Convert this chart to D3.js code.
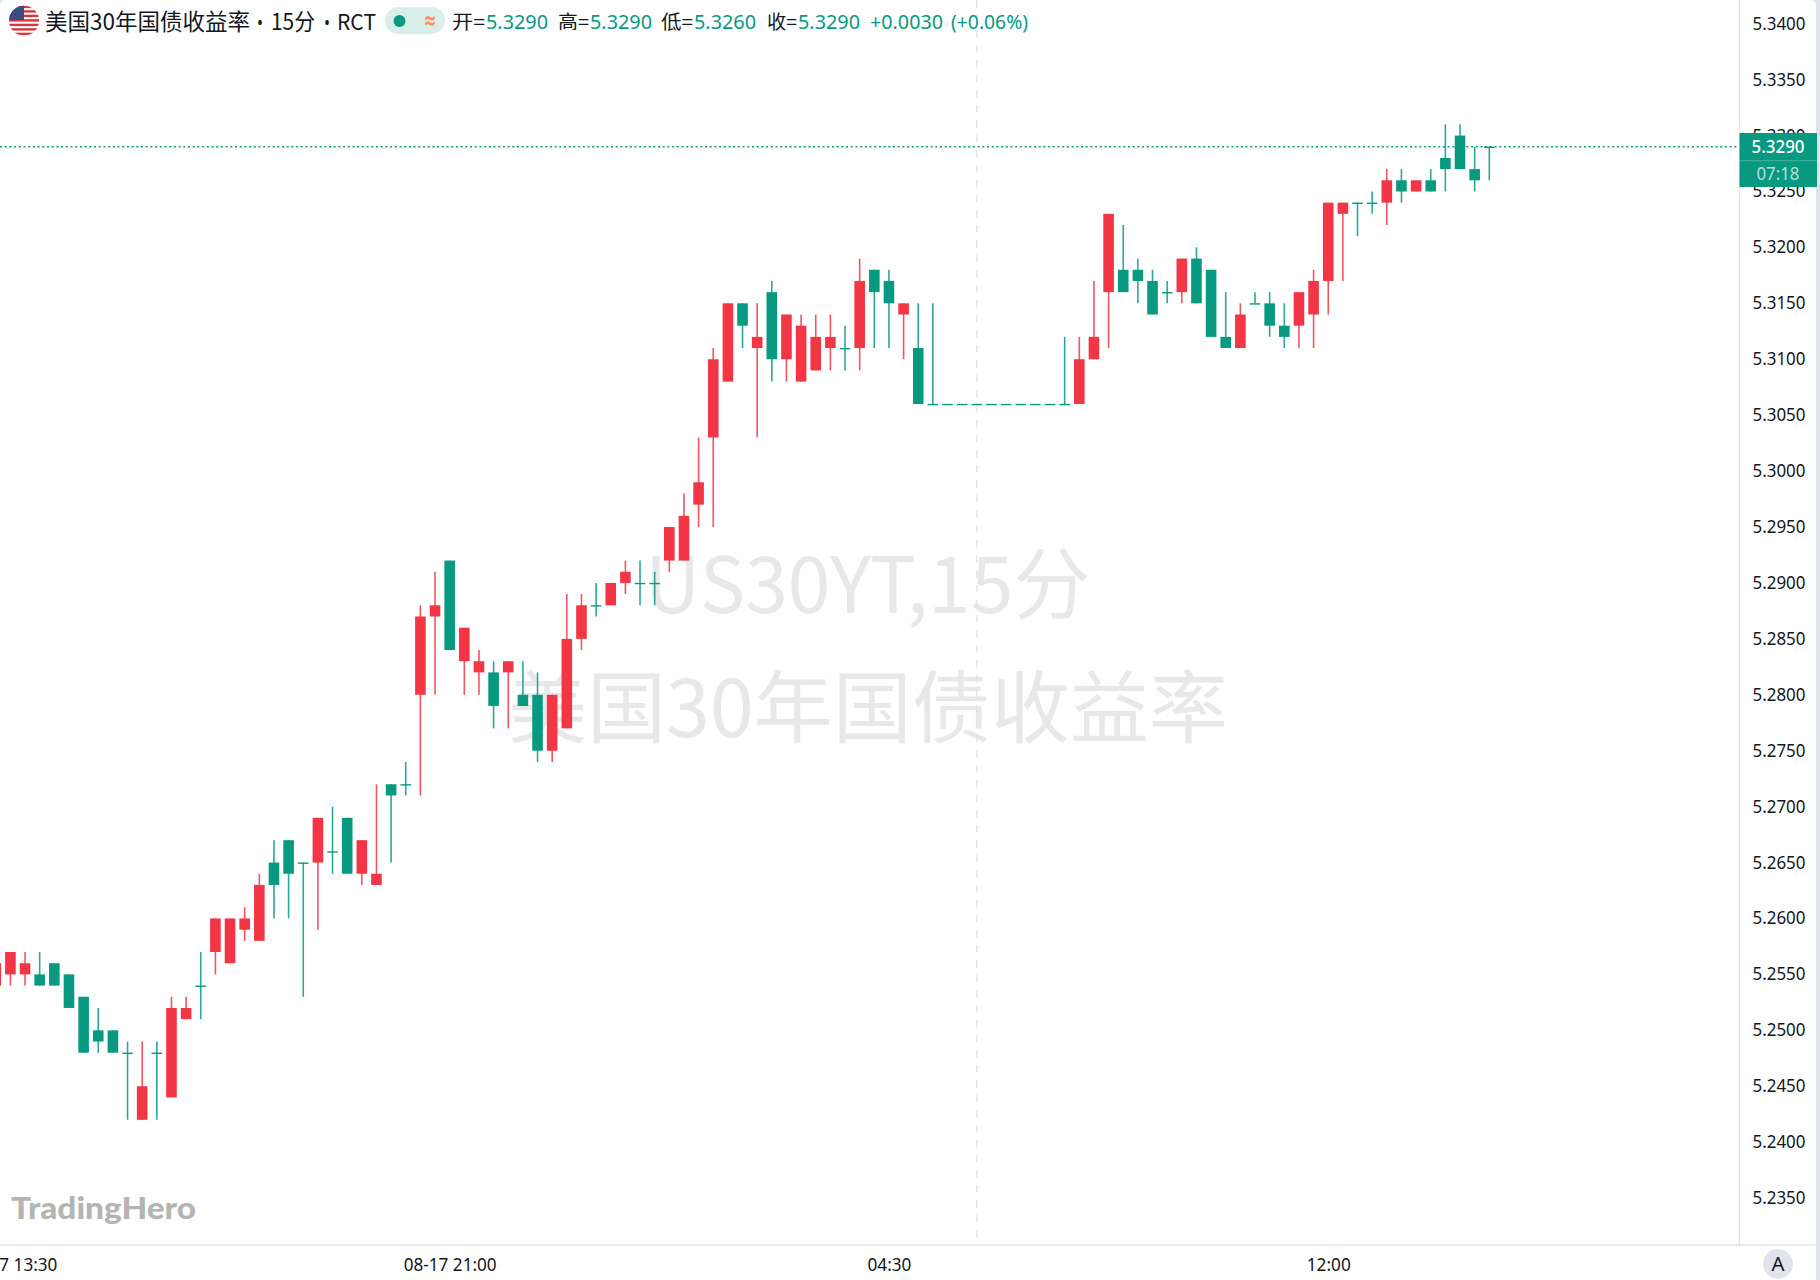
<!DOCTYPE html>
<html>
<head>
<meta charset="utf-8">
<script src="https://cdn.jsdelivr.net/npm/d3@7"></script>
<style>
  html, body { margin: 0; padding: 0; background: #e0e3eb; overflow: hidden; }
</style>
</head>
<body>
<div id="chart"></div>
<script>
/**
 * Data. The first bar only peeks in at the left edge.
 */
const opens = [
  5.254, 5.255, 5.255, 5.255, 5.256, 5.255, 5.253, 5.250, 5.250, 5.248, 5.242, 5.248, 5.244, 5.251, 5.254,
  5.257, 5.256, 5.259, 5.258, 5.265, 5.267, 5.265, 5.265, 5.266, 5.269, 5.264, 5.263, 5.272, 5.272, 5.280,
  5.287, 5.292, 5.283, 5.282, 5.282, 5.282, 5.280, 5.280, 5.275, 5.277, 5.285, 5.288, 5.288, 5.290, 5.290,
  5.290, 5.292, 5.292, 5.297, 5.303, 5.308, 5.315, 5.311, 5.316, 5.310, 5.308, 5.309, 5.311, 5.311, 5.311,
  5.318, 5.317, 5.314, 5.311, 5.306, 5.306, 5.306, 5.306, 5.306, 5.306, 5.306, 5.306, 5.306, 5.306, 5.306,
  5.310, 5.316, 5.318, 5.318, 5.317, 5.316, 5.316, 5.319, 5.318, 5.312, 5.311, 5.315, 5.315, 5.313, 5.313,
  5.314, 5.317, 5.323, 5.324, 5.324, 5.324, 5.326, 5.325, 5.326, 5.328, 5.330, 5.327, 5.329
];
const highs = [
  5.256, 5.257, 5.257, 5.257, 5.256, 5.255, 5.253, 5.252, 5.250, 5.249, 5.249, 5.249, 5.253, 5.253, 5.257,
  5.260, 5.260, 5.261, 5.264, 5.267, 5.267, 5.265, 5.269, 5.270, 5.269, 5.267, 5.272, 5.272, 5.274, 5.288,
  5.291, 5.292, 5.286, 5.284, 5.283, 5.283, 5.283, 5.282, 5.280, 5.289, 5.289, 5.290, 5.290, 5.292, 5.292,
  5.291, 5.295, 5.298, 5.303, 5.311, 5.315, 5.315, 5.315, 5.317, 5.314, 5.314, 5.314, 5.314, 5.313, 5.319,
  5.318, 5.318, 5.315, 5.315, 5.315, 5.306, 5.306, 5.306, 5.306, 5.306, 5.306, 5.306, 5.306, 5.312, 5.312,
  5.317, 5.323, 5.322, 5.319, 5.318, 5.317, 5.319, 5.320, 5.318, 5.316, 5.315, 5.316, 5.316, 5.315, 5.316,
  5.318, 5.324, 5.324, 5.324, 5.325, 5.327, 5.327, 5.326, 5.327, 5.331, 5.331, 5.329, 5.329
];
const lows = [
  5.254, 5.254, 5.254, 5.254, 5.254, 5.252, 5.248, 5.248, 5.248, 5.242, 5.242, 5.242, 5.244, 5.251, 5.251,
  5.255, 5.256, 5.258, 5.258, 5.260, 5.260, 5.253, 5.259, 5.264, 5.264, 5.263, 5.263, 5.265, 5.271, 5.271,
  5.280, 5.284, 5.280, 5.280, 5.277, 5.277, 5.279, 5.274, 5.274, 5.277, 5.284, 5.287, 5.288, 5.289, 5.288,
  5.288, 5.291, 5.292, 5.295, 5.295, 5.308, 5.311, 5.303, 5.308, 5.308, 5.308, 5.309, 5.309, 5.309, 5.309,
  5.311, 5.311, 5.310, 5.306, 5.306, 5.306, 5.306, 5.306, 5.306, 5.306, 5.306, 5.306, 5.306, 5.306, 5.306,
  5.310, 5.311, 5.316, 5.315, 5.314, 5.315, 5.315, 5.315, 5.312, 5.311, 5.311, 5.315, 5.312, 5.311, 5.311,
  5.311, 5.314, 5.317, 5.321, 5.323, 5.322, 5.324, 5.325, 5.325, 5.325, 5.327, 5.325, 5.326
];
const closes = [
  5.256, 5.257, 5.256, 5.254, 5.254, 5.252, 5.248, 5.249, 5.248, 5.248, 5.245, 5.248, 5.252, 5.252, 5.254,
  5.260, 5.260, 5.260, 5.263, 5.263, 5.264, 5.265, 5.269, 5.266, 5.264, 5.267, 5.264, 5.271, 5.272, 5.287,
  5.288, 5.284, 5.286, 5.283, 5.279, 5.283, 5.279, 5.275, 5.280, 5.285, 5.288, 5.288, 5.290, 5.291, 5.290,
  5.290, 5.295, 5.296, 5.299, 5.310, 5.315, 5.313, 5.312, 5.310, 5.314, 5.313, 5.312, 5.312, 5.311, 5.317,
  5.316, 5.315, 5.315, 5.306, 5.306, 5.306, 5.306, 5.306, 5.306, 5.306, 5.306, 5.306, 5.306, 5.306, 5.310,
  5.312, 5.323, 5.316, 5.317, 5.314, 5.316, 5.319, 5.315, 5.312, 5.311, 5.314, 5.315, 5.313, 5.312, 5.316,
  5.317, 5.324, 5.324, 5.324, 5.324, 5.326, 5.325, 5.326, 5.325, 5.327, 5.327, 5.326, 5.329
];

const priceTicks = [
  5.340, 5.335, 5.330, 5.325, 5.320, 5.315, 5.310, 5.305, 5.300, 5.295, 5.290, 5.285,
  5.280, 5.275, 5.270, 5.265, 5.260, 5.255, 5.250, 5.245, 5.240, 5.235
];
const timeLabels = ["08-17 13:30", "08-17 21:00", "04:30", "12:00"];
const timeBars = [1, 31, 61, 91];
const crosshairBar = 67;
const lastPrice = 5.329;
const countdown = "07:18";

const legendLabels = ["开=", "高=", "低=", "收="];
const legendValues = ["5.3290", "5.3290", "5.3260", "5.3290"];
const legendChange = "+0.0030";
const legendPercent = "(+0.06%)";

/**
 * Basic Settings
 */
const canvasWidth = 1820;
const canvasHeight = 1280;
const axisX = 1739.5;
const axisY = 1245;
const paneRight = 1816;

const upColor = "#f23645";
const downColor = "#089981";
const lineColor = "#e0e3eb";
const textColor = "#131722";
const cjkFont = "'Noto Sans CJK SC', 'Noto Sans', sans-serif";
const latinFont = "'Noto Sans', 'Noto Sans CJK SC', sans-serif";

const svg = d3.select("#chart")
  .append("svg")
  .attr("width", canvasWidth)
  .attr("height", canvasHeight)
  .style("display", "block");

// bar 1 sits at 10.4px, bar 102 at 1489.3px
const x = d3.scaleLinear().domain([1, 102]).range([10.4, 1489.3]);
const y = d3.scaleLinear().domain([5.235, 5.34]).range([1198.1, 23.7]);
const bars = d3.range(opens.length);

// text gets a fixed length so it lands where the reference has it
function addText(parent, str, px, py, size, len, options) {
  const o = options || {};
  return parent.append("text")
    .attr("x", px)
    .attr("y", py)
    .attr("font-family", o.font || latinFont)
    .attr("font-size", size)
    .attr("font-weight", o.weight || 400)
    .attr("fill", o.fill || textColor)
    .attr("text-anchor", o.anchor || "start")
    .attr("textLength", len)
    .attr("lengthAdjust", "spacingAndGlyphs")
    .text(str);
}

/**
 * Pane
 */
svg.append("rect")
  .attr("width", paneRight)
  .attr("height", canvasHeight + 20)
  .attr("rx", 6)
  .attr("fill", "#ffffff");

/**
 * Watermarks
 */
addText(svg, "US30YT,15分", 645, 613, 78, 445, { font: cjkFont, fill: "#e7e8ea" });
addText(svg, "美国30年国债收益率", 508, 737, 79, 720, { font: cjkFont, fill: "#e7e8ea" });

addText(svg, "TradingHero", 11, 1219, 31, 185, { font: "Lato, sans-serif", weight: 900, fill: "#b4b4b4" });

/**
 * Crosshair and last price line
 */
svg.append("line")
  .attr("x1", x(crosshairBar))
  .attr("x2", x(crosshairBar))
  .attr("y1", 0)
  .attr("y2", axisY)
  .attr("stroke", "#dfe2ec")
  .attr("stroke-width", 1.3)
  .attr("stroke-dasharray", "7.5 7.5");

/**
 * Candles
 */
const candle = svg.selectAll("g.candle")
  .data(bars)
  .join("g")
  .attr("class", "candle");

candle.append("line")
  .attr("x1", function(i) { return x(i); })
  .attr("x2", function(i) { return x(i); })
  .attr("y1", function(i) { return y(highs[i]); })
  .attr("y2", function(i) { return y(lows[i]); })
  .attr("stroke", function(i) { return closes[i] > opens[i] ? upColor : downColor; })
  .attr("stroke-width", 1.6)
  .attr("stroke-opacity", 0.85);

candle.append("rect")
  .attr("x", function(i) { return x(i) - 5.3; })
  .attr("width", 10.6)
  .attr("y", function(i) {
    return opens[i] === closes[i] ? y(opens[i]) - 0.1 : y(Math.max(opens[i], closes[i]));
  })
  .attr("height", function(i) {
    return opens[i] === closes[i] ? 1.4 : y(Math.min(opens[i], closes[i])) - y(Math.max(opens[i], closes[i]));
  })
  .attr("fill", function(i) { return closes[i] > opens[i] ? upColor : downColor; });

svg.append("line")
  .attr("x1", 0)
  .attr("x2", axisX)
  .attr("y1", y(lastPrice))
  .attr("y2", y(lastPrice))
  .attr("stroke", downColor)
  .attr("stroke-width", 1.7)
  .attr("stroke-dasharray", "2 2.7");

/**
 * Axes
 */
const yAxis = svg.append("g")
  .attr("transform", `translate(${axisX}, -0.3)`)
  .call(d3.axisRight(y).tickValues(priceTicks).tickSize(0).tickPadding(13).tickFormat(d3.format(".4f")));
yAxis.select(".domain").remove();
yAxis.selectAll("text")
  .attr("font-family", latinFont)
  .attr("font-size", 18)
  .attr("fill", textColor)
  .attr("textLength", 53)
  .attr("lengthAdjust", "spacingAndGlyphs");

const xAxis = svg.append("g")
  .attr("transform", `translate(0, ${axisY})`)
  .call(d3.axisBottom(x).tickValues(timeBars).tickSize(0).tickPadding(13)
    .tickFormat(function(d, i) { return timeLabels[i]; }));
xAxis.select(".domain").remove();
xAxis.selectAll("text")
  .attr("font-family", latinFont)
  .attr("font-size", 18)
  .attr("fill", textColor)
  .attr("textLength", function(d, i) { return timeLabels[i].length > 5 ? 93 : 44; })
  .attr("lengthAdjust", "spacingAndGlyphs");

svg.append("line")
  .attr("x1", axisX).attr("x2", axisX)
  .attr("y1", 0).attr("y2", axisY)
  .attr("stroke", lineColor)
  .attr("stroke-width", 1.3);
svg.append("line")
  .attr("x1", 0).attr("x2", paneRight)
  .attr("y1", axisY).attr("y2", axisY)
  .attr("stroke", lineColor)
  .attr("stroke-width", 1.5);

svg.append("circle")
  .attr("cx", 1778).attr("cy", 1264).attr("r", 15)
  .attr("fill", lineColor);
addText(svg, "A", 1778, 1271, 19, 13, { anchor: "middle" });

/**
 * Last price label
 */
svg.append("rect")
  .attr("x", axisX)
  .attr("y", 133)
  .attr("width", 77.5)
  .attr("height", 54)
  .attr("fill", downColor);
svg.append("line")
  .attr("x1", axisX).attr("x2", axisX + 77.5)
  .attr("y1", 160.7).attr("y2", 160.7)
  .attr("stroke", "#ffffff")
  .attr("stroke-opacity", 0.25);
addText(svg, d3.format(".4f")(lastPrice), 1778, y(lastPrice) + 6.5, 18, 53,
  { anchor: "middle", fill: "#ffffff", weight: 500 });
addText(svg, countdown, 1778, 180, 18, 43, { anchor: "middle", fill: "#ffffff" })
  .attr("fill-opacity", 0.7);

/**
 * Legend
 */
const flagClip = svg.append("clipPath").attr("id", "flag-clip");
flagClip.append("circle").attr("cx", 24).attr("cy", 20.7).attr("r", 15);
const flag = svg.append("g").attr("clip-path", "url(#flag-clip)");
flag.append("rect").attr("x", 9).attr("y", 5).attr("width", 30).attr("height", 31).attr("fill", "#ffffff");
d3.range(0, 7).forEach(function(k) {
  flag.append("rect")
    .attr("x", 9).attr("y", 5.7 + k * 4.5)
    .attr("width", 30).attr("height", 2.4)
    .attr("fill", "#d8363f");
});
flag.append("rect").attr("x", 9).attr("y", 5).attr("width", 15).attr("height", 15).attr("fill", "#3c4a80");

addText(svg, "美国30年国债收益率", 45, 30, 22.5, 205, { font: cjkFont });
addText(svg, "•", 260, 30, 20, 6, { anchor: "middle" });
addText(svg, "15分", 271, 30, 22.5, 44, { font: cjkFont });
addText(svg, "•", 327, 30, 20, 6, { anchor: "middle" });
addText(svg, "RCT", 337, 30, 22, 39, { font: cjkFont });

svg.append("rect")
  .attr("x", 385).attr("y", 7)
  .attr("width", 60).attr("height", 27)
  .attr("rx", 13.5)
  .attr("fill", "#d9efec");
svg.append("circle")
  .attr("cx", 399.5).attr("cy", 21).attr("r", 6)
  .attr("fill", downColor);
addText(svg, "≈", 430, 29, 26, 13, { anchor: "middle", fill: "#ff8f66", weight: 700, font: "'DejaVu Sans', sans-serif" });

const legendLabelX = [452, 558, 661, 767];
const legendValueX = [486, 590, 694, 798];
legendLabels.forEach(function(d, i) {
  addText(svg, d, legendLabelX[i], 29, 19, legendValueX[i] - legendLabelX[i] - 1, { font: cjkFont });
  addText(svg, legendValues[i], legendValueX[i], 29, 19, 62, { fill: downColor });
});
addText(svg, legendChange, 870, 29, 19, 73, { fill: downColor });
addText(svg, legendPercent, 951, 29, 19, 77, { fill: downColor });
</script>
</body>
</html>
